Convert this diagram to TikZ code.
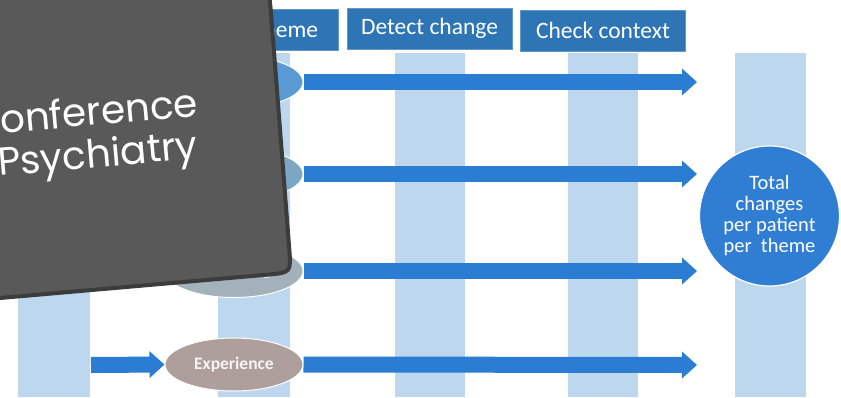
\documentclass[tikz,border=0pt]{standalone}
\usepackage{fontspec}
\setmainfont{Carlito}
\newfontfamily\boxfont{Poppins}
\usetikzlibrary{shapes.geometric,arrows.meta,calc}
\definecolor{colbg}{HTML}{BDD7EE}
\definecolor{hdr}{HTML}{2E75B6}
\definecolor{arrowc}{HTML}{2B7CD3}
\definecolor{circc}{HTML}{2F7ED4}
\definecolor{ella}{HTML}{5B9BD5}
\definecolor{ellb}{HTML}{7BA7C5}
\definecolor{ellc}{HTML}{A3B1BB}
\definecolor{elld}{HTML}{AE9F9C}
\definecolor{boxgray}{HTML}{595959}
\definecolor{boxedge}{HTML}{3C3C3C}
\begin{document}
\begin{tikzpicture}[x=1pt,y=-1pt,
  column/.style={fill=colbg},
  header/.style={fill=hdr, draw=hdr!75!white, line width=0.8pt, minimum width=165pt, minimum height=41pt, inner sep=0pt, text=white, font=\fontsize{23.5}{26}\selectfont},
  theme/.style={ellipse, minimum width=138pt, minimum height=53pt, inner sep=0pt, draw=white, line width=1pt, text=white!92!gray, font=\fontsize{17.5}{20}\selectfont\bfseries},
  bigarrow/.style={draw=arrowc, line width=16pt, -{Triangle[width=26pt,length=15pt]}},
  total/.style={circle, minimum size=140pt, inner sep=0pt, fill=circc, draw=white, line width=1.2pt, text=white, align=center, font=\fontsize{20.5}{21}\selectfont},
  graybox/.style={fill=boxgray, draw=boxedge, line width=4pt},
  boxtxt/.style={text=white, inner sep=0pt, anchor=base west, rotate=5, font=\boxfont\fontsize{39}{45}\selectfont}
]
\useasboundingbox (0,0) rectangle (841,397);
\fill[white] (0,0) rectangle (841,397);
% columns
\fill[column] (18,53) rectangle (90,397);
\fill[column] (218,53) rectangle (290,397);
\fill[column] (395,53) rectangle (465,397);
\fill[column] (568,53) rectangle (638,397);
\fill[column] (735,53) rectangle (806,397);
% headers
\node[header] (h2) at (255.5,29.5) {Select theme};
\node[header] (h3) at (429.5,28.5) {Detect change};
\node[header] (h4) at (603,30.5) {Check context};
% themes
\node[theme, fill=ella] (e1) at (234,82) {};
\node[theme, fill=ellb] (e2) at (234,174) {};
\node[theme, fill=ellc] (e3) at (234,271) {Wellbeing};
\node[theme, fill=elld] (e4) at (234,364.5) {Experience};
% arrow ends
\coordinate (t1) at (697,82);
\coordinate (t2) at (697,174);
\coordinate (t3) at (697,271);
\coordinate (t4) at (697,365);
\coordinate (s4) at (91,365);
\draw[bigarrow] (e1.east) -- (t1);
\draw[bigarrow] (e2.east) -- (t2);
\draw[bigarrow] (e3.east) -- (t3);
\draw[bigarrow] (e4.east) -- (t4);
\draw[bigarrow] (s4) -- (e4.west);
% total circle
\node[total] (tot) at (769.5,216) {Total\\changes\\per patient\\per~ theme};
% gray overlay box
\coordinate (gTL) at (-40,-40);
\coordinate (gTR) at (267.9,-27);
\coordinate (gBR) at (291.1,272.6);
\coordinate (gBL) at (-40,301.5);
\draw[graybox] (gTL) -- ($(gTR)!50pt!(gTL)$) .. controls (gTR) .. ($(gTR)!50pt!(gBR)$)
  -- ($(gBR)!24pt!(gTR)$) .. controls (gBR) .. ($(gBR)!24pt!(gBL)$) -- (gBL) -- cycle;
\node[boxtxt] (l1) at (-29,136) {Conference};
\node[boxtxt] (l2) at (-1,176) {Psychiatry};
\end{tikzpicture}
\end{document}
